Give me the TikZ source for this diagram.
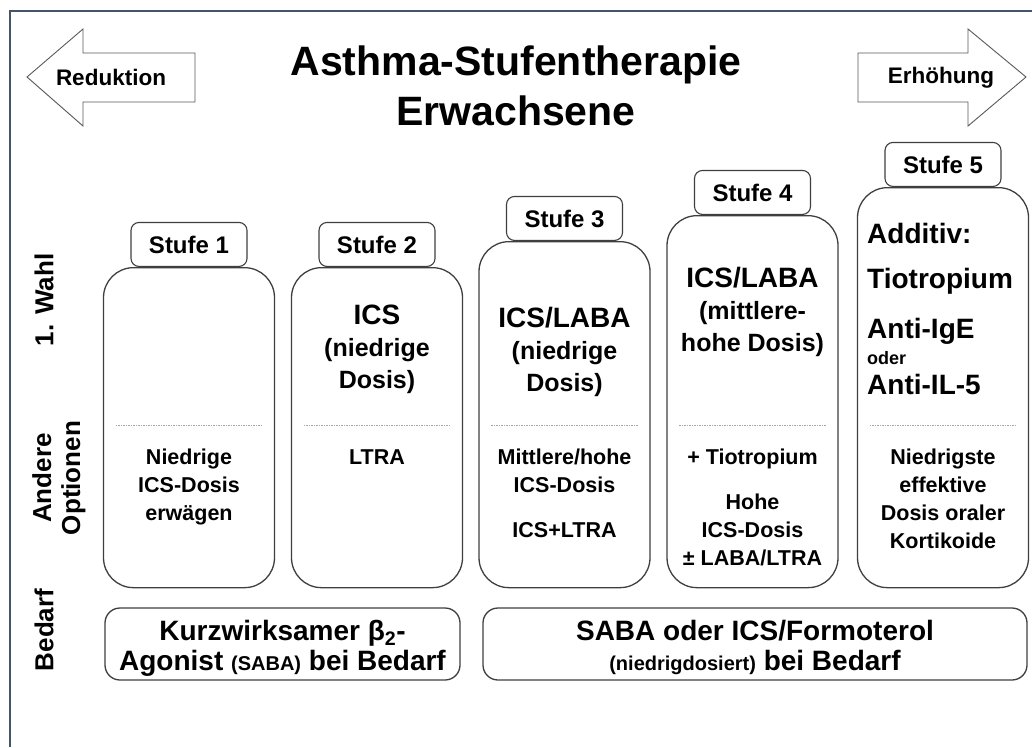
\documentclass[tikz,border=0pt]{standalone}
\usepackage{fontspec}
\setmainfont{Liberation Sans}
\usetikzlibrary{calc}

\definecolor{framegray}{HTML}{44546A}
\definecolor{boxline}{HTML}{3F3F3F}

\begin{document}
\begin{tikzpicture}[
    x=1pt, y=-1pt,
    stufebox/.style={draw=boxline, line width=1.3pt, rounded corners=30pt,
        minimum width=171pt, inner sep=0pt},
    stufelabel/.style={draw=boxline, line width=1.1pt, fill=white, rounded corners=8pt,
        minimum width=116pt, minimum height=44pt, inner sep=0pt,
        font=\fontsize{24}{28}\selectfont\bfseries},
    bedarfbox/.style={draw=boxline, line width=1.3pt, rounded corners=15pt,
        minimum height=72pt, inner sep=0pt, align=center,
        font=\fontsize{28}{30}\selectfont\bfseries},
    sepline/.style={gray!70, line width=0.9pt, dash pattern=on 1.5pt off 1pt},
    sidelabel/.style={rotate=90, align=center, inner sep=0pt,
        font=\fontsize{26}{29}\selectfont\bfseries},
    wahltext/.style={anchor=north, inner sep=0pt, align=center,
        font=\fontsize{25}{32}\selectfont\bfseries},
    opttext/.style={anchor=north, inner sep=0pt, align=center,
        font=\fontsize{21.5}{28}\selectfont\bfseries},
    steparrow/.style={draw=gray!70!black, line width=0.9pt, fill=white},
    arrowtext/.style={inner sep=0pt, font=\fontsize{22.5}{26}\selectfont\bfseries},
]

\fill[white] (0,0) rectangle (1032,747);
\useasboundingbox (0,0) rectangle (1032,747);

% ===================== FRAME =====================
\draw[framegray, line width=2.5pt] (10,747) -- (10,11) -- (1032,11);

% ===================== TITLE + ARROWS =====================
\node[anchor=north, align=center, inner sep=0pt,
      font=\fontsize{41}{50}\selectfont\bfseries] (title) at (516,46)
    {Asthma-Stufentherapie\\Erwachsene};

\draw[steparrow] (27,77) -- (83,29) -- (83,53) -- (195,53) -- (195,102)
    -- (83,102) -- (83,126) -- cycle;
\node[arrowtext] (reduktion) at (111,77.5) {Reduktion};

\draw[steparrow] (1026,77) -- (968,29) -- (968,53) -- (858,53) -- (858,102)
    -- (968,102) -- (968,126) -- cycle;
\node[arrowtext] (erhoehung) at (941,77.5) {Erhöhung};

% ===================== STUFEN =====================
\coordinate (sepy) at (0,425);

\foreach \i/\x/\t in {1/189/267, 2/377/267, 3/564.5/241, 4/752.5/215, 5/943/187} {
    \pgfmathsetmacro{\boxh}{587-\t}
    \node[stufebox, minimum height=\boxh pt, anchor=north] (col\i) at (\x,\t) {};
    \node[stufelabel, anchor=south] (lab\i) at (col\i.north) {Stufe \i};
    \draw[sepline] ($(col\i.west |- sepy)+(13,0)$) -- ($(col\i.east |- sepy)+(-13,0)$);
}

% 1. Wahl
\node[wahltext] (wahl2) at (377,305)
    {{\fontsize{28}{32}\selectfont ICS}\\(niedrige\\Dosis)};
\node[wahltext] (wahl3) at (564.5,307)
    {{\fontsize{28}{32}\selectfont ICS/LABA}\\(niedrige\\Dosis)};
\node[wahltext] (wahl4) at (752.5,267)
    {{\fontsize{28}{32}\selectfont ICS/LABA}\\(mittlere-\\hohe Dosis)};
\node[anchor=north west, inner sep=0pt, align=left,
      font=\fontsize{28}{26}\selectfont\bfseries] (wahl5) at (867,223)
    {Additiv:\\[19pt]Tiotropium\\[23pt]Anti-IgE\\{\fontsize{18}{20}\selectfont oder}\\[4pt]Anti-IL-5};

% Andere Optionen
\node[opttext] (opt1) at (189,449) {Niedrige\\ICS-Dosis\\erwägen};
\node[opttext] (opt2) at (377,449) {LTRA};
\node[opttext] (opt3) at (564.5,449) {Mittlere/hohe\\ICS-Dosis\\[17pt]ICS+LTRA};
\node[opttext] (opt4) at (752.5,449) {+ Tiotropium\\[17pt]Hohe\\ICS-Dosis\\± LABA/LTRA};
\node[opttext] (opt5) at (943,449) {Niedrigste\\effektive\\Dosis oraler\\Kortikoide};

% ===================== ROW LABELS =====================
\node[sidelabel] (wahl) at (44,300) {1. Wahl};
\node[sidelabel] (andere) at (59,478) {Andere\\Optionen};
\node[sidelabel] (bedarf) at (44,630) {Bedarf};

% ===================== BEDARF =====================
\node[bedarfbox, minimum width=355pt] (bed1) at (282.5,644)
    {\rule{0pt}{28pt}Kurzwirksamer β\textsubscript{2}-\\Agonist {\fontsize{20}{22}\selectfont (SABA)} bei Bedarf};
\node[bedarfbox, minimum width=544pt] (bed2) at (755,644)
    {\rule{0pt}{28pt}SABA oder ICS/Formoterol\\{\fontsize{20}{22}\selectfont (niedrigdosiert)} bei Bedarf};

\end{tikzpicture}
\end{document}
